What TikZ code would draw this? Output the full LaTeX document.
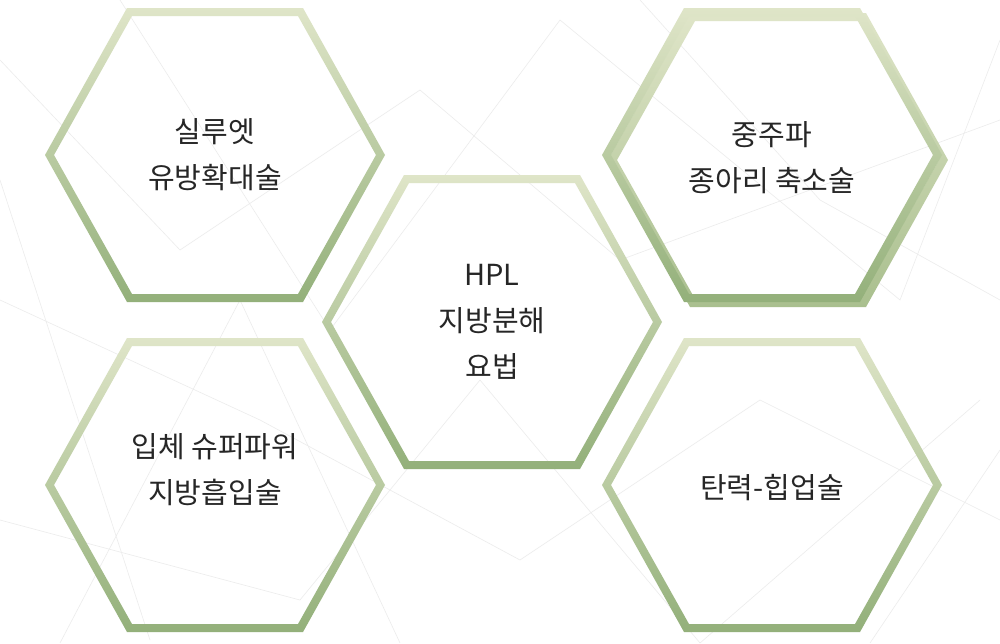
\documentclass[tikz,border=0pt]{standalone}
\usepackage{fontspec}
\setmainfont{Noto Sans CJK KR}
\begin{document}
\begin{tikzpicture}[x=1pt,y=-1pt,
  lbl/.style={font=\fontsize{29}{46}\selectfont, align=center, text=black!85}]
\useasboundingbox (0,0) rectangle (1000,643);
\fill[white] (0,0) rectangle (1000,643);
\begin{scope}[gray!15, line width=0.6pt]
\draw (0,60)--(180,250)--(420,90)--(620,260)--(1000,120);
\draw (0,300)--(260,420)--(520,560)--(760,400)--(1000,520);
\draw (120,0)--(330,330)--(560,20)--(900,300)--(1000,40);
\draw (0,520)--(300,600)--(480,380)--(700,643)--(980,400);
\draw (60,643)--(240,300)--(400,643);
\draw (640,0)--(820,200)--(1000,300);
\draw (0,180)--(150,640);
\draw (870,643)--(1000,450);
\end{scope}
\newcommand{\hexring}[4]{%
 \shade[top color=#3, bottom color=#4, even odd rule]
  (#1-170,#2)--(#1-88,#2-147)--(#1+88,#2-147)--(#1+170,#2)--(#1+88,#2+147)--(#1-88,#2+147)--cycle
  (#1-161,#2)--(#1-83,#2-139)--(#1+83,#2-139)--(#1+161,#2)--(#1+83,#2+139)--(#1-83,#2+139)--cycle;}
\definecolor{hl}{HTML}{DFE5C8}
\definecolor{hd}{HTML}{93B07A}
\definecolor{hs}{HTML}{A9BF8E}
\hexring{215}{155}{hl}{hd}
\hexring{215}{485}{hl}{hd}
\hexring{492}{322}{hl}{hd}
\hexring{778}{160}{hl}{hs}
\hexring{772}{155}{hl}{hd}
\hexring{772}{485}{hl}{hd}
\node[lbl] (a) at (215,155) {실루엣\\유방확대술};
\node[lbl] (b) at (215,470) {입체 슈퍼파워\\지방흡입술};
\node[lbl] (c) at (492,322) {HPL\\지방분해\\요법};
\node[lbl] (d) at (772,158) {중주파\\종아리 축소술};
\node[lbl] (e) at (772,488) {탄력-힙업술};
\end{tikzpicture}
\end{document}
